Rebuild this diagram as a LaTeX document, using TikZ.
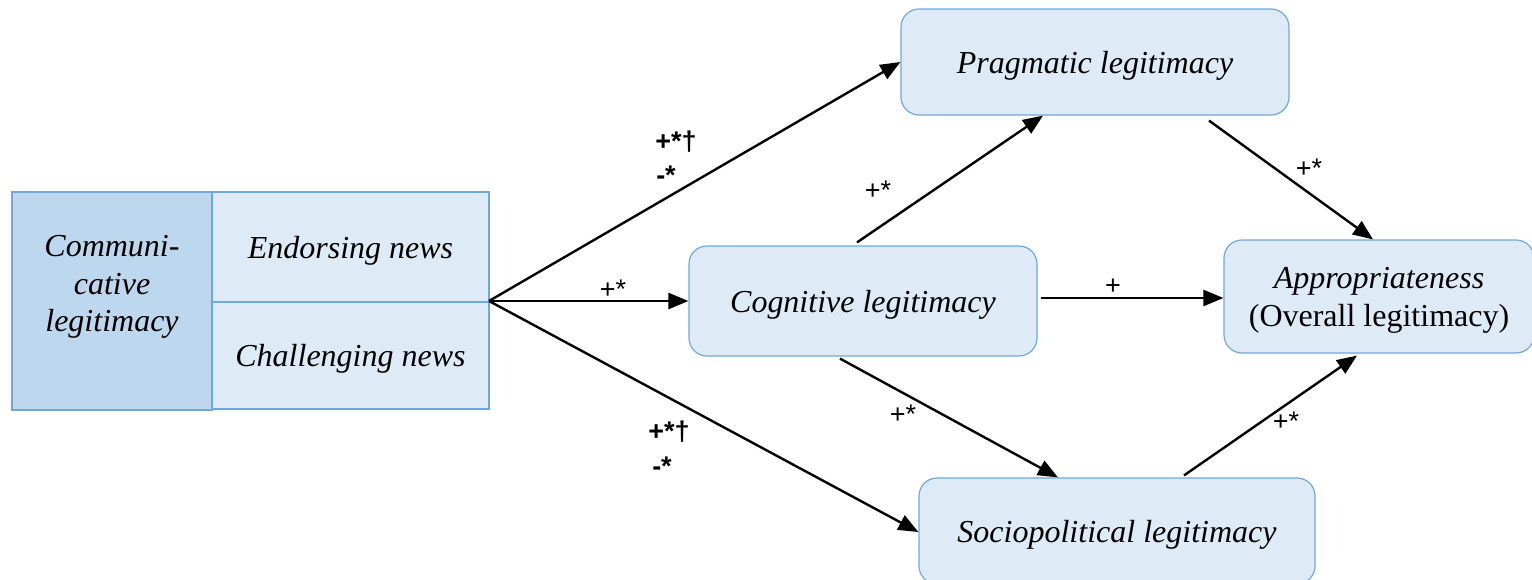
\documentclass[tikz,border=0pt]{standalone}
\usepackage{fontspec}
\setmainfont{Liberation Serif}
\newfontfamily\labelfont{Liberation Sans}
\usetikzlibrary{arrows.meta,calc}
\definecolor{boxfill}{HTML}{DEEBF7}
\definecolor{darkfill}{HTML}{BDD7EE}
\definecolor{boxline}{HTML}{6FA8DC}
\begin{document}
\begin{tikzpicture}[x=1pt,y=-1pt,
  box/.style={draw=boxline,line width=1.2pt,fill=boxfill,rectangle,inner sep=0pt,font=\fontsize{32}{38}\selectfont\itshape,align=center,text depth=0pt},
  rbox/.style={box,rounded corners=18pt},
  conn/.style={line width=2.4pt,-{Triangle[length=20pt,width=16pt]}},
  lab/.style={font=\labelfont\fontsize{27}{30}\selectfont,inner sep=0pt},
  blab/.style={font=\labelfont\bfseries\fontsize{27}{30}\selectfont,inner sep=0pt}]
\useasboundingbox (0,0) rectangle (1532,579);
% left boxes
\node[box,fill=darkfill,minimum width=200pt,minimum height=218pt] (comm) at (112,301) {};
\node[font=\fontsize{32}{37.5}\selectfont\itshape,align=center,inner sep=0pt] (commlabel) at (112,287) {Communi-\\cative\\legitimacy};
\node[box,minimum width=277pt,minimum height=110pt] (endo) at (350.5,247) {Endorsing news};
\node[box,minimum width=277pt,minimum height=107pt] (chal) at (350.5,355.5) {Challenging news};
\coordinate (src) at (489,301);
% right boxes
\node[rbox,minimum width=388pt,minimum height=106pt] (prag) at (1095,62) {Pragmatic legitimacy};
\node[rbox,minimum width=348pt,minimum height=110pt] (cog) at (863,301) {Cognitive legitimacy};
\node[rbox,minimum width=310pt,minimum height=113pt] (appr) at (1379,296.5) {Appropriateness\\\upshape(Overall legitimacy)};
\node[rbox,minimum width=396pt,minimum height=106pt] (socio) at (1117,531) {Sociopolitical legitimacy};
% connectors
\draw[conn] (src) -- (prag.west);
\draw[conn] (src) -- (cog.west);
\draw[conn] (src) -- ([yshift=-1pt]socio.west);
\draw[conn] ([xshift=-6pt,yshift=3pt]cog.north) -- ([xshift=-52pt]prag.south);
\draw[conn] ([xshift=-23pt,yshift=-2pt]cog.south) -- ([xshift=-59pt]socio.north);
\draw[conn] ([xshift=114pt,yshift=-5pt]prag.south) -- ([xshift=-6pt]appr.north);
\draw[conn] ([xshift=3pt,yshift=3pt]cog.east) -- ([yshift=-1.5pt]appr.west);
\draw[conn] ([xshift=67pt,yshift=2pt]socio.north) -- ([xshift=-22pt,yshift=-2pt]appr.south);
% labels
\node[blab] (l1a) at (676,142) {+*†};
\node[blab] (l1b) at (666,175) {-*};
\node[lab] (l2) at (878,190) {+*};
\node[lab] (l3) at (613,289) {+*};
\node[lab] (l4) at (1113,287) {+};
\node[lab] (l5) at (1309,168) {+*};
\node[lab] (l6) at (903,414) {+*};
\node[lab] (l7) at (1286,421) {+*};
\node[blab] (l8a) at (669,432) {+*†};
\node[blab] (l8b) at (662,466) {-*};
\end{tikzpicture}
\end{document}
